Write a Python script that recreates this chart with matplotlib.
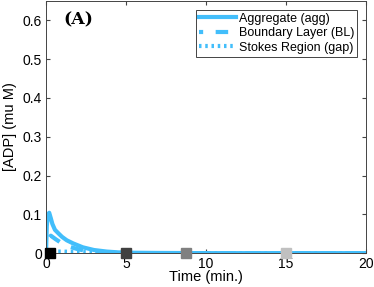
import matplotlib.pyplot as plt

# data
t_agg = [0, 0.05, 0.12, 0.2, 0.3, 0.4, 0.56, 0.8, 1.0, 1.3, 1.7, 2.3, 3.0, 3.8, 4.5, 5.5, 7, 10, 15, 20]
agg = [0, 0.07, 0.1, 0.104, 0.09, 0.075, 0.06, 0.05, 0.042, 0.033, 0.025, 0.015, 0.008, 0.004, 0.002, 0.001, 0.0005, 0, 0, 0]

t_bl = [0, 0.1, 0.3, 0.6, 1.0, 1.5, 2.0, 2.5, 3.0, 4.0, 5.0, 10, 20]
bl = [0, 0.03, 0.045, 0.036, 0.025, 0.016, 0.01, 0.006, 0.004, 0.001, 0, 0, 0]

t_gap = [0, 0.3, 1, 2, 3, 4, 5, 10, 20]
gap = [0, 0.004, 0.004, 0.003, 0.002, 0.001, 0, 0, 0]

mark_t = [0.25, 5, 8.75, 15]
mark_colors = ['#000000', '#404040', '#808080', '#c0c0c0']

plt.rcParams['font.family'] = ['Liberation Sans', 'DejaVu Sans']
blue = '#42BEFB'

fig = plt.figure(figsize=(3.74, 2.87), dpi=100)
ax = fig.add_axes([0.123, 0.118, 0.856, 0.879])

ax.plot(t_agg, agg, color=blue, lw=3, label='Aggregate (agg)')
ax.plot(t_bl, bl, color=blue, lw=3, ls=(2, (3, 3)), label='Boundary Layer (BL)')
ax.plot(t_gap, gap, color=blue, lw=3, ls=(0, (0.6, 0.9)), label='Stokes Region (gap)')
for x, c in zip(mark_t, mark_colors):
    ax.plot([x], [0], 's', color=c, ms=7.5, clip_on=False, zorder=5)

ax.set_xlim(0, 20)
ax.set_ylim(0, 0.65)
ax.set_xticks([0, 5, 10, 15, 20])
ax.set_yticks([0, 0.1, 0.2, 0.3, 0.4, 0.5, 0.6])
ax.set_yticklabels(['0', '0.1', '0.2', '0.3', '0.4', '0.5', '0.6'])
ax.tick_params(direction='in', top=True, right=True, labelsize=10, length=3,
               color='#444444', pad=3)
for s in ax.spines.values():
    s.set_color('#444444')
    s.set_linewidth(0.7)
ax.set_xlabel('Time (min.)', fontsize=10.5, labelpad=-1)
ax.set_ylabel('[ADP] (mu M)', fontsize=10.5, labelpad=4)

ax.text(1.1, 0.6, '(A)', family='DejaVu Serif', fontweight='bold', fontsize=12.5,
        va='center', ha='left')

leg = ax.legend(loc='upper right', fontsize=9, handlelength=3.0, handletextpad=0.2,
                borderpad=0.25, labelspacing=0.2, borderaxespad=0.7, fancybox=False,
                framealpha=1)
leg.get_frame().set_edgecolor('#444444')
leg.get_frame().set_linewidth(0.7)

plt.savefig('out.png', dpi=100)
